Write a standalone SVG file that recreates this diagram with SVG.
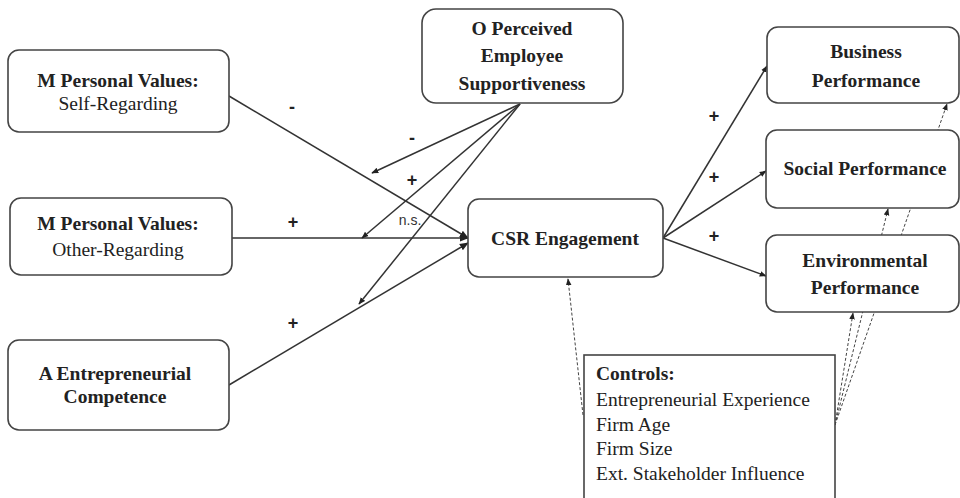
<svg xmlns="http://www.w3.org/2000/svg" width="960" height="498" viewBox="0 0 960 498">
<style>
.box{fill:#fff;stroke:#444;stroke-width:1.6}
.t{font-family:"Liberation Serif","Times New Roman",serif;font-size:19.5px;fill:#222;text-anchor:middle}
.b{font-weight:bold}
.tl{font-family:"Liberation Serif","Times New Roman",serif;font-size:19.5px;fill:#222}
.ln{stroke:#333;stroke-width:1.5;fill:none}
.dl{stroke:#444;stroke-width:1;fill:none;stroke-dasharray:3,2}
.lab{font-family:"Liberation Sans",Arial,sans-serif;font-size:18px;font-weight:bold;fill:#222;text-anchor:middle}
.ns{font-family:"Liberation Sans",Arial,sans-serif;font-size:14px;fill:#333;text-anchor:middle}
</style>
<defs>
<marker id="ah" viewBox="0 0 10 10" refX="9" refY="5" markerWidth="7" markerHeight="7" markerUnits="userSpaceOnUse" orient="auto">
<path d="M0,1 L10,5 L0,9 z" fill="#222"/>
</marker>
<marker id="ahs" viewBox="0 0 10 10" refX="9" refY="5" markerWidth="9" markerHeight="9" markerUnits="userSpaceOnUse" orient="auto">
<path d="M0,1 L10,5 L0,9 z" fill="#222"/>
</marker>
</defs>
<rect width="960" height="498" fill="#fff"/>
<g id="connectors">
<line class="ln" x1="229" y1="96" x2="468" y2="238" marker-end="url(#ahs)"/>
<line class="ln" x1="232" y1="238" x2="468" y2="238" marker-end="url(#ahs)"/>
<line class="ln" x1="229" y1="385" x2="468" y2="243" marker-end="url(#ahs)"/>
<line class="ln" x1="520" y1="104" x2="372" y2="173" marker-end="url(#ah)"/>
<line class="ln" x1="520" y1="104" x2="362" y2="238" marker-end="url(#ah)"/>
<line class="ln" x1="520" y1="104" x2="359" y2="304" marker-end="url(#ah)"/>
<line class="ln" x1="663" y1="238" x2="767" y2="66" marker-end="url(#ah)"/>
<line class="ln" x1="663" y1="238" x2="766" y2="171" marker-end="url(#ah)"/>
<line class="ln" x1="663" y1="238" x2="766" y2="276" marker-end="url(#ah)"/>
<line class="dl" x1="583" y1="415" x2="568" y2="279" marker-end="url(#ah)"/>
<line class="dl" x1="835" y1="425" x2="853" y2="313" marker-end="url(#ah)"/>
<line class="dl" x1="835" y1="425" x2="888" y2="209" marker-end="url(#ah)"/>
<line class="dl" x1="835" y1="425" x2="947" y2="104" marker-end="url(#ah)"/>
<text class="lab" x="292" y="113">-</text>
<text class="lab" x="412" y="144">-</text>
<text class="lab" x="412" y="186">+</text>
<text class="ns" x="410" y="225">n.s.</text>
<text class="lab" x="293" y="228">+</text>
<text class="lab" x="293" y="329">+</text>
<text class="lab" x="714" y="122">+</text>
<text class="lab" x="714" y="183">+</text>
<text class="lab" x="714" y="242">+</text>
</g>
<g id="self-regarding">
<rect class="box" x="8" y="50" width="221" height="82" rx="11"/>
<text class="t b" x="118" y="87">M Personal Values:</text>
<text class="t" x="118" y="110">Self-Regarding</text>
</g>
<g id="other-regarding">
<rect class="box" x="10" y="198" width="222" height="77" rx="11"/>
<text class="t b" x="118" y="230">M Personal Values:</text>
<text class="t" x="118" y="256">Other-Regarding</text>
</g>
<g id="entrepreneurial-competence">
<rect class="box" x="8" y="340" width="221" height="90" rx="11"/>
<text class="t b" x="115" y="380">A Entrepreneurial</text>
<text class="t b" x="115" y="403">Competence</text>
</g>
<g id="employee-supportiveness">
<rect class="box" x="422" y="9" width="201" height="94" rx="14"/>
<text class="t b" x="522" y="35">O Perceived</text>
<text class="t b" x="522" y="62">Employee</text>
<text class="t b" x="522" y="90">Supportiveness</text>
</g>
<g id="csr-engagement">
<rect class="box" x="468" y="199" width="195" height="78" rx="11"/>
<text class="t b" x="565" y="245">CSR Engagement</text>
</g>
<g id="business-performance">
<rect class="box" x="767" y="27" width="192" height="76" rx="11"/>
<text class="t b" x="866" y="58">Business</text>
<text class="t b" x="866" y="87">Performance</text>
</g>
<g id="social-performance">
<rect class="box" x="766" y="130" width="193" height="78" rx="11"/>
<text class="t b" x="865" y="175">Social Performance</text>
</g>
<g id="environmental-performance">
<rect class="box" x="766" y="235" width="193" height="77" rx="11"/>
<text class="t b" x="865" y="267">Environmental</text>
<text class="t b" x="865" y="294">Performance</text>
</g>
<g id="controls">
<rect class="box" x="584" y="355" width="251" height="160"/>
<text class="tl b" x="596" y="380">Controls:</text>
<text class="tl" x="596" y="406">Entrepreneurial Experience</text>
<text class="tl" x="596" y="431">Firm Age</text>
<text class="tl" x="596" y="455">Firm Size</text>
<text class="tl" x="596" y="480">Ext. Stakeholder Influence</text>
</g>
</svg>
